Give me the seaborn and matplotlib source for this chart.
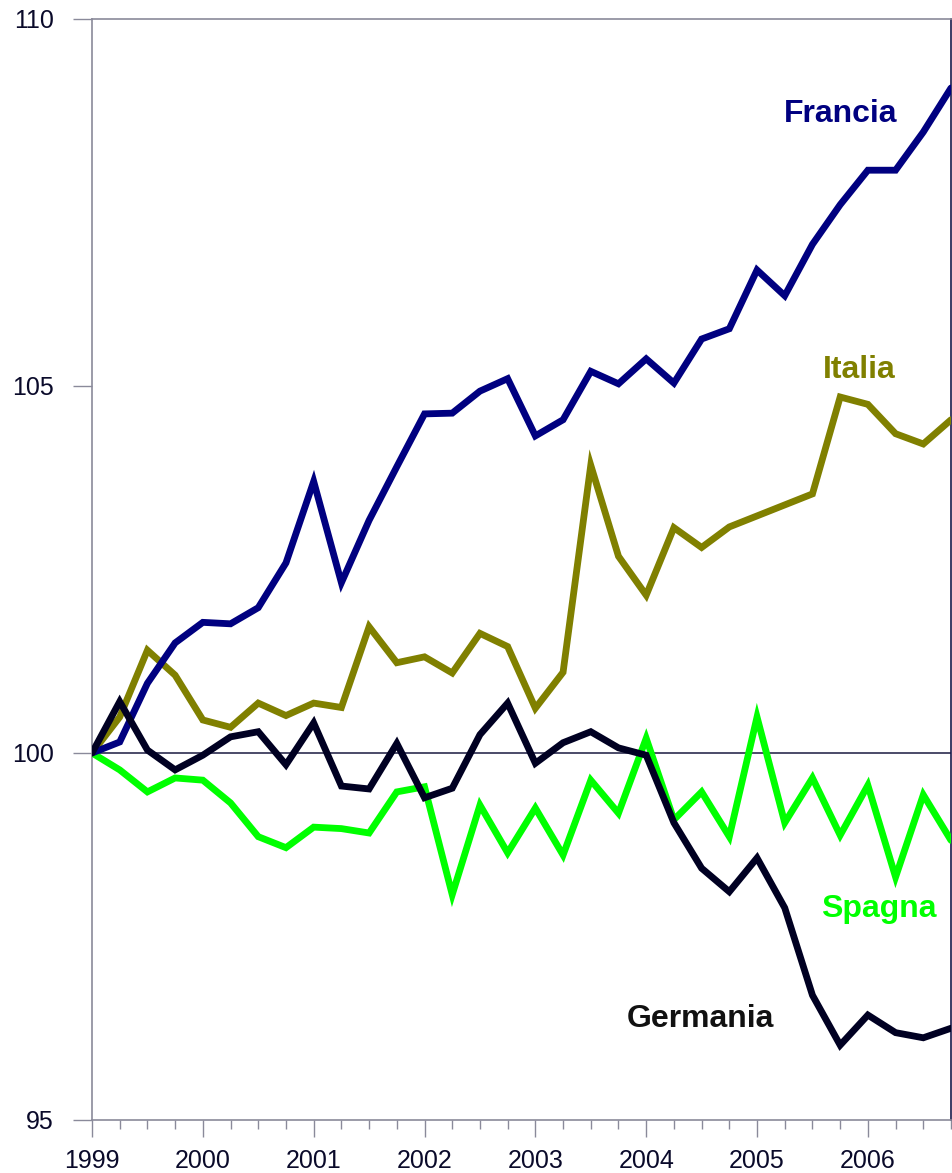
import matplotlib
matplotlib.use("Agg")
import matplotlib.pyplot as plt
import numpy as np
import pandas as pd
import seaborn as sns

# Quarterly index, 1999Q1 = 100
quarters = [1999 + i / 4 for i in range(32)]

francia = [100.0, 100.15, 100.95, 101.5, 101.78, 101.76, 101.98, 102.59,
           103.7, 102.32, 103.17, 103.9, 104.62, 104.63, 104.93, 105.1,
           104.32, 104.54, 105.2, 105.03, 105.37, 105.04, 105.64, 105.78,
           106.58, 106.23, 106.93, 107.47, 107.94, 107.94, 108.46, 109.06]

italia = [100.0, 100.49, 101.4, 101.06, 100.45, 100.35, 100.68, 100.51,
          100.68, 100.62, 101.72, 101.23, 101.31, 101.09, 101.63, 101.45,
          100.61, 101.1, 103.92, 102.68, 102.15, 103.07, 102.8, 103.08,
          103.23, 103.38, 103.53, 104.85, 104.75, 104.35, 104.21, 104.54]

germania = [100.0, 100.7, 100.04, 99.77, 99.97, 100.22, 100.29, 99.84,
            100.41, 99.55, 99.51, 100.13, 99.39, 99.52, 100.25, 100.68,
            99.86, 100.14, 100.29, 100.07, 99.97, 99.05, 98.43, 98.11,
            98.57, 97.89, 96.7, 96.02, 96.43, 96.19, 96.12, 96.25]

spagna = [100.0, 99.77, 99.47, 99.66, 99.63, 99.32, 98.86, 98.71,
          98.99, 98.97, 98.91, 99.47, 99.54, 98.07, 99.29, 98.64,
          99.25, 98.61, 99.63, 99.18, 100.2, 99.09, 99.47, 98.86,
          100.49, 99.05, 99.66, 98.88, 99.56, 98.31, 99.43, 98.81]

paesi = ["Spagna", "Italia", "Francia", "Germania"]
colori = {"Francia": "#000080", "Italia": "#808000",
          "Spagna": "#00FF00", "Germania": "#000022"}

etichette = {"Francia": (2005.75, 108.6), "Italia": (2005.92, 105.11),
             "Spagna": (2006.1, 97.77), "Germania": (2004.49, 96.27)}

year_ticks = list(range(1999, 2007))
y_ticks = [95, 100, 105, 110]

serie = {"Francia": francia, "Italia": italia, "Germania": germania, "Spagna": spagna}
df = pd.concat([pd.DataFrame({"t": quarters, "val": serie[p], "paese": p}) for p in paesi],
               ignore_index=True)

sns.set_style("white")
plt.rcParams["font.family"] = ["Liberation Sans", "DejaVu Sans"]

fig = plt.figure(figsize=(9.53, 11.73), dpi=100)
ax = fig.add_axes([92 / 953, 53 / 1173, 859 / 953, 1101 / 1173])

ax.axhline(100, color="#1a1a40", lw=1.1, zorder=1)

sns.lineplot(data=df, x="t", y="val", hue="paese", hue_order=paesi,
             palette=colori, linewidth=4.9, legend=False, ax=ax, zorder=3,
             sort=False)
for line in ax.get_lines():
    line.set_solid_joinstyle("miter")

for p, (x, y) in etichette.items():
    ax.text(x, y, p, color=colori[p] if p != "Germania" else "#111111",
            fontsize=23, fontweight="bold", ha="center", va="baseline")

ax.set_xlim(1999, 2006.75)
ax.set_ylim(95, 110)
ax.set_xticks(year_ticks)
ax.set_xticklabels([str(y) for y in year_ticks])
ax.set_xticks([1999 + i / 4 for i in range(32)], minor=True)
ax.set_yticks(y_ticks)
ax.set_xlabel("")
ax.set_ylabel("")

spine_col = "#8a8a9a"
for s in ["left", "bottom", "top"]:
    ax.spines[s].set_color(spine_col)
    ax.spines[s].set_linewidth(1.2)
ax.spines["right"].set_color("#1a1a4a")
ax.spines["right"].set_linewidth(1.2)

ax.tick_params(axis="y", which="major", direction="out", length=13.5, width=1,
               color=spine_col, labelsize=18, labelcolor="#0a0a2a", pad=14, left=True)
ax.tick_params(axis="x", which="major", direction="out", length=12, width=1,
               color=spine_col, labelsize=18, labelcolor="#0a0a2a", pad=9, bottom=True)
ax.tick_params(axis="x", which="minor", direction="out", length=6.5, width=1,
               color=spine_col, bottom=True)
ax.grid(False)

fig.savefig("out.png", dpi=100)
